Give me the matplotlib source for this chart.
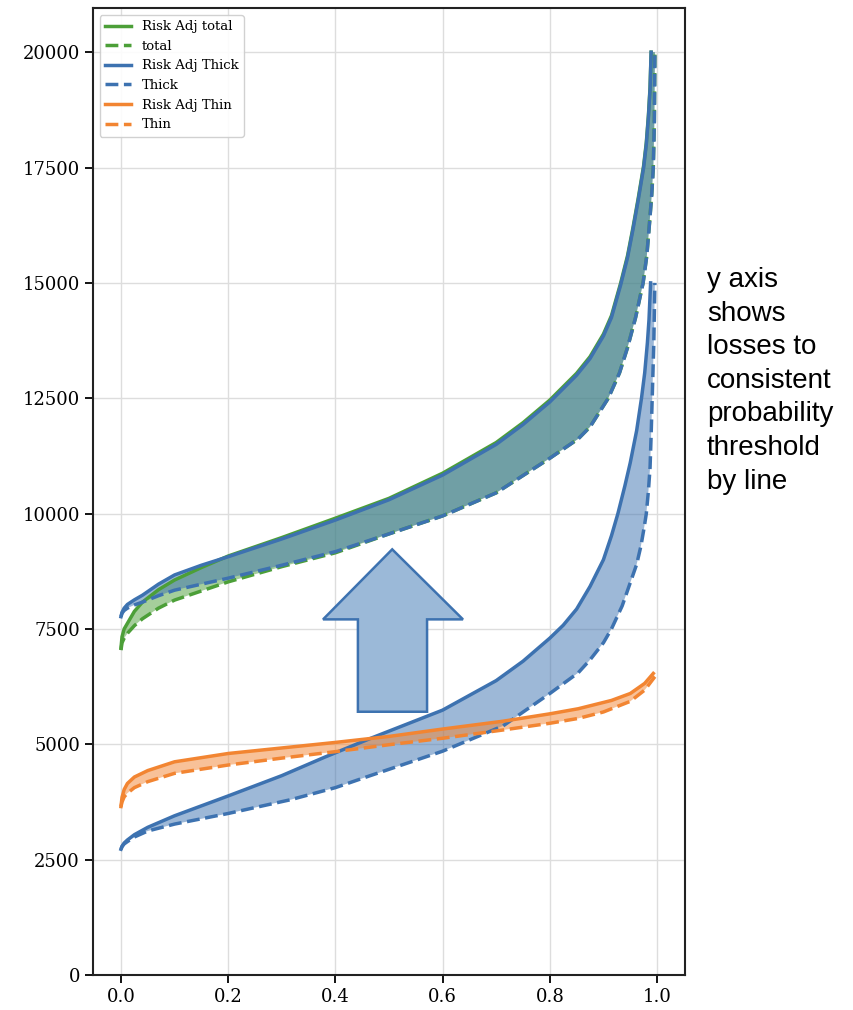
import matplotlib
matplotlib.use("Agg")
import matplotlib.pyplot as plt
import numpy as np
from matplotlib.patches import Polygon

# colours
BLUE = "#3d72b0"
ORANGE = "#f28532"
GREEN = "#4c9f38"

# Thick line: risk adjusted (solid) and plain (dashed)
thick_adj_x = [0.0, 0.002, 0.006, 0.012, 0.025, 0.05, 0.1, 0.2, 0.3, 0.38, 0.466, 0.6, 0.7, 0.75,
               0.8, 0.825, 0.85, 0.875, 0.9, 0.915, 0.927, 0.94, 0.95, 0.962, 0.971, 0.977,
               0.982, 0.985, 0.988]
thick_adj_y = [2725, 2790, 2860, 2925, 3040, 3200, 3450, 3880, 4320, 4720, 5130, 5740, 6380, 6800,
               7300, 7580, 7930, 8420, 9000, 9520, 10000, 10600, 11100, 11800, 12500, 13050,
               13700, 14200, 15000]
thick_x = [0.0, 0.002, 0.006, 0.012, 0.025, 0.05, 0.1, 0.2, 0.317, 0.4, 0.46, 0.6, 0.713, 0.8,
           0.853, 0.875, 0.9, 0.915, 0.935, 0.95, 0.962, 0.97, 0.976, 0.98, 0.984, 0.987,
           0.989, 0.991, 0.994, 0.996]
thick_y = [2725, 2780, 2840, 2890, 2990, 3120, 3270, 3500, 3800, 4060, 4300, 4850, 5400, 6100,
           6550, 6830, 7200, 7500, 8000, 8500, 8900, 9300, 9700, 10000, 10500, 11000,
           11700, 12500, 13700, 15000]

# Thin line
thin_adj_x = [0.0, 0.002, 0.006, 0.012, 0.025, 0.05, 0.1, 0.2, 0.3, 0.4, 0.5, 0.6, 0.713, 0.8,
              0.853, 0.915, 0.95, 0.977, 0.993]
thin_adj_y = [3650, 3850, 4020, 4150, 4290, 4430, 4620, 4800, 4920, 5040, 5170, 5330, 5500, 5660,
              5770, 5950, 6100, 6320, 6535]
thin_x = [0.0, 0.002, 0.006, 0.012, 0.025, 0.05, 0.1, 0.2, 0.3, 0.4, 0.5, 0.6, 0.713, 0.8,
          0.853, 0.9, 0.95, 0.977, 0.996]
thin_y = [3650, 3750, 3860, 3940, 4060, 4190, 4370, 4550, 4700, 4840, 4990, 5130, 5310, 5455,
          5560, 5700, 5930, 6175, 6465]

# Total
total_adj_x = [0.0, 0.002, 0.006, 0.0125, 0.025, 0.04, 0.07, 0.1, 0.15, 0.2, 0.3, 0.4, 0.5, 0.6,
               0.7, 0.75, 0.8, 0.85, 0.875, 0.9, 0.915, 0.932, 0.945, 0.955, 0.965, 0.975,
               0.98, 0.984, 0.987, 0.989]
total_adj_y = [7085, 7330, 7500, 7630, 7880, 8080, 8350, 8560, 8830, 9080, 9480, 9900, 10330, 10875,
               11540, 11970, 12460, 13040, 13400, 13890, 14290, 14990, 15590, 16190, 16840, 17540,
               18040, 18640, 19240, 20000]
total_x = [0.0, 0.002, 0.006, 0.0125, 0.025, 0.04, 0.07, 0.1, 0.2, 0.3, 0.4, 0.5, 0.6, 0.7,
           0.8, 0.853, 0.875, 0.909, 0.93, 0.945, 0.96, 0.974, 0.981, 0.986, 0.99, 0.993,
           0.995, 0.996]
total_y = [7040, 7200, 7300, 7410, 7570, 7720, 7950, 8125, 8520, 8850, 9150, 9560, 9950, 10450,
           11200, 11620, 11880, 12500, 13050, 13600, 14250, 15000, 15600, 16300, 16900, 17500,
           18500, 20000]

# Thick line lifted up (no legend entry)
lifted_adj_x = [0.0, 0.002, 0.006, 0.012, 0.025, 0.04, 0.07, 0.1, 0.15, 0.2, 0.3, 0.4, 0.5, 0.6,
                0.7, 0.75, 0.8, 0.85, 0.875, 0.9, 0.915, 0.932, 0.945, 0.955, 0.965, 0.975,
                0.98, 0.984, 0.987, 0.989]
lifted_adj_y = [7765, 7860, 7950, 8030, 8130, 8230, 8470, 8670, 8880, 9065, 9450, 9860, 10300, 10835,
                11500, 11930, 12420, 13000, 13360, 13850, 14250, 14950, 15550, 16150, 16800, 17500,
                18000, 18600, 19200, 20000]
lifted_x = [0.0, 0.002, 0.006, 0.012, 0.025, 0.04, 0.07, 0.1, 0.2, 0.3, 0.4, 0.5, 0.6, 0.7,
            0.8, 0.853, 0.875, 0.909, 0.93, 0.945, 0.96, 0.974, 0.981, 0.986, 0.99, 0.993,
            0.995, 0.996]
lifted_y = [7765, 7840, 7900, 7950, 8020, 8080, 8220, 8340, 8600, 8880, 9175, 9560, 9950, 10450,
            11200, 11620, 11880, 12500, 13050, 13600, 14250, 15000, 15600, 16300, 16900, 17500,
            18500, 20000]

# block arrow annotation (data coords)
arrow_x = [0.506, 0.638, 0.571, 0.571, 0.442, 0.442, 0.377]
arrow_y = [9225, 7707, 7707, 5705, 5705, 7707, 7707]

note = "y axis\nshows\nlosses to\nconsistent\nprobability\nthreshold\nby line"

plt.rcParams['font.family'] = ['DejaVu Serif']

fig = plt.figure(figsize=(8.54, 10.10), dpi=100)
ax = fig.add_axes([0.109, 0.0347, 0.693, 0.957])


def band(xa, ya, xb, yb, color):
    xs = np.concatenate([xa, xb[::-1]])
    ys = np.concatenate([ya, yb[::-1]])
    ax.fill(xs, ys, color=color, alpha=0.5, lw=0)


band(total_adj_x, total_adj_y, total_x, total_y, GREEN)
band(lifted_adj_x, lifted_adj_y, lifted_x, lifted_y, BLUE)
band(thick_adj_x, thick_adj_y, thick_x, thick_y, BLUE)
band(thin_adj_x, thin_adj_y, thin_x, thin_y, ORANGE)

lw = 2.5
ax.plot(total_adj_x, total_adj_y, color=GREEN, lw=lw, label="Risk Adj total")
ax.plot(total_x, total_y, color=GREEN, lw=lw, ls="--", label="total")
ax.plot(thick_adj_x, thick_adj_y, color=BLUE, lw=lw, label="Risk Adj Thick")
ax.plot(thick_x, thick_y, color=BLUE, lw=lw, ls="--", label="Thick")
ax.plot(thin_adj_x, thin_adj_y, color=ORANGE, lw=lw, label="Risk Adj Thin")
ax.plot(thin_x, thin_y, color=ORANGE, lw=lw, ls="--", label="Thin")
ax.plot(lifted_adj_x, lifted_adj_y, color=BLUE, lw=lw)
ax.plot(lifted_x, lifted_y, color=BLUE, lw=lw, ls="--")

ax.add_patch(Polygon(np.column_stack([arrow_x, arrow_y]), closed=True,
                     facecolor="#9bb9d8", edgecolor=BLUE, lw=1.8, zorder=5))

ax.set_xlim(-0.052, 1.052)
ax.set_ylim(0, 20950)
ax.set_xticks(np.arange(0, 1.01, 0.2))
ax.set_yticks(np.arange(0, 20001, 2500))
ax.grid(True, color="#dddddd", lw=1)
ax.set_axisbelow(True)
ax.tick_params(labelsize=13, length=6, width=1.3, direction="out")
for s in ax.spines.values():
    s.set_linewidth(1.5)
    s.set_color("#222222")

ax.legend(loc="upper left", fontsize=9.5, frameon=True, fancybox=True,
          edgecolor="#cccccc", framealpha=0.9, handlelength=2.0)

fig.text(0.828, 0.623, note, family=["Liberation Sans"], fontsize=20,
         va="center", ha="left", linespacing=1.38)

fig.savefig("out.png", dpi=100)
